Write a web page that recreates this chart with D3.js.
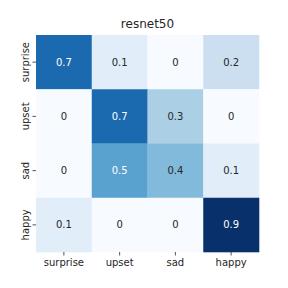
<!DOCTYPE html>
<html><head><meta charset="utf-8">
<script src="https://cdn.jsdelivr.net/npm/d3@7"></script>
<style>body{margin:0;background:#fff}text{font-family:"DejaVu Sans",sans-serif}</style>
</head><body>
<script>
const title = "resnet50";
const rowLabels = ["surprise","upset","sad","happy"];
const colLabels = ["surprise","upset","sad","happy"];
const values = [
  [0.7,0.1,0,0.2],
  [0,0.7,0.3,0],
  [0,0.5,0.4,0.1],
  [0.1,0,0,0.9]
];
const vmin = 0, vmax = 0.9;

const W=288,H=288;
const mLeft=36,mRight=259,mTop=35,mBottom=252;
const svg=d3.select("body").append("svg").attr("width",W).attr("height",H);

const blues=["#f7fbff","#deebf7","#c6dbef","#9ecae1","#6baed6","#4292c6","#2171b5","#08519c","#08306b"];
const cmap=d3.scaleLinear().domain(blues.map((_,i)=>i/(blues.length-1))).range(blues).interpolate(d3.interpolateRgb);
const color=v=>cmap((v-vmin)/(vmax-vmin));

const x=d3.scaleBand().domain(colLabels).range([mLeft,mRight]);
const y=d3.scaleBand().domain(rowLabels).range([mTop,mBottom]);

const cells=[];
values.forEach((row,i)=>row.forEach((v,j)=>cells.push({r:rowLabels[i],c:colLabels[j],v})));

svg.selectAll("rect.cell").data(cells).enter().append("rect")
  .attr("x",d=>x(d.c)).attr("y",d=>y(d.r))
  .attr("width",x.bandwidth()+0.3).attr("height",y.bandwidth()+0.3)
  .attr("fill",d=>color(d.v));

function lum(c){const k=d3.rgb(c);const f=u=>{u/=255;return u<=0.03928?u/12.92:Math.pow((u+0.055)/1.055,2.4)};return 0.2126*f(k.r)+0.7152*f(k.g)+0.0722*f(k.b);}

svg.selectAll("text.ann").data(cells).enter().append("text")
  .attr("x",d=>x(d.c)+x.bandwidth()/2).attr("y",d=>y(d.r)+y.bandwidth()/2)
  .attr("text-anchor","middle").attr("dominant-baseline","central")
  .attr("font-size",10)
  .attr("fill",d=>lum(color(d.v))>0.408?"#262626":"#ffffff")
  .text(d=>String(d.v));

const xAxis=svg.append("g").attr("transform",`translate(0,${mBottom})`)
  .call(d3.axisBottom(x).tickSize(3.5).tickPadding(3.5));
const yAxis=svg.append("g").attr("transform",`translate(${mLeft},0)`)
  .call(d3.axisLeft(y).tickSize(3.5).tickPadding(3.5));
[xAxis,yAxis].forEach(g=>{g.select(".domain").remove();g.selectAll("line").attr("stroke","#262626").attr("stroke-width",0.8);
  g.selectAll("text").attr("font-size",10).attr("fill","#262626").style("font-family","DejaVu Sans");});
yAxis.selectAll("text").attr("transform","rotate(-90)")
  .attr("x",0).attr("dy",0).attr("text-anchor","middle").attr("y",-7.5);

svg.append("text").attr("x",(mLeft+mRight)/2).attr("y",mTop-7)
  .attr("text-anchor","middle").attr("font-size",12).attr("fill","#262626").text(title);
</script>
</body></html>
